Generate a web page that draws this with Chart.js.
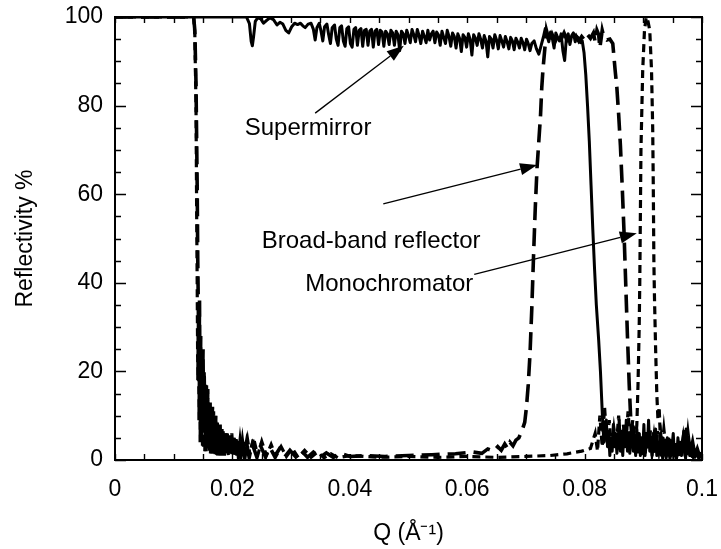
<!DOCTYPE html>
<html>
<head>
<meta charset="utf-8">
<script src="https://cdn.jsdelivr.net/npm/chart.js@4/dist/chart.umd.min.js"></script>
<style>
  html, body { margin: 0; padding: 0; background: #fff; }
  #wrap { width: 721px; height: 549px; }
</style>
</head>
<body>
<div id="wrap"><canvas id="c" width="721" height="549"></canvas></div>
<script>
// ---- Axis settings ----
const xMin = 0, xMax = 0.1, xLabelStep = 0.02, xMinorStep = 0.005;
const yMin = 0, yMax = 100, yLabelStep = 20, yMinorStep = 5;
const xTitle = 'Q (Å⁻¹)';
const yTitle = 'Reflectivity %';

// ---- Series: [Q, reflectivity %] ----
const supermirrorPoints = [
  [0,100],[0.0224,100],[0.0229,98.5],[0.0232,94.5],[0.0234,93.5],[0.0236,95.5],[0.0239,99],[0.0243,99.8],
  [0.0248,99.6],[0.0253,98.6],[0.0258,99.2],[0.0264,99.8],[0.027,99.4],[0.0276,98.2],[0.0281,98.8],[0.0286,98.4],
  [0.0291,97],[0.0296,96.4],[0.0301,97.8],[0.0306,98.6],[0.0311,98.3],[0.0316,98.6],[0.032,98],[0.0324,97.6],
  [0.0329,98.4],[0.0334,98.6],[0.0338,97.2],[0.0341,94.8],[0.0344,97.6],[0.0348,98.6],[0.0351,96.8],[0.0354,94.6],
  [0.0357,97.8],[0.0361,98.4],[0.0364,96],[0.0367,94],[0.037,97.6],[0.0374,98.2],[0.0377,95],[0.038,93.6],
  [0.0383,97.6],[0.0386,98],[0.0389,94.6],[0.0392,93.4],[0.0395,97.4],[0.0398,97.8],[0.0401,94],[0.0404,93.2],
  [0.0407,97.2],[0.041,97.6],[0.0413,93.6],[0.0416,97],[0.0419,97.4],[0.0422,93.4],[0.0425,97],[0.0428,97.2],
  [0.0431,93.6],[0.0434,96.8],[0.0437,97.2],[0.044,93.2],[0.0443,96.8],[0.0446,97.2],[0.0449,93.8],[0.0452,97],
  [0.0455,96.6],[0.0458,93.4],[0.0461,96.8],[0.0464,96.2],[0.0467,93.8],[0.047,97],[0.0473,96.4],[0.0476,93.6],
  [0.0479,96.8],[0.0482,96],[0.0485,92.4],[0.0488,96.8],[0.0491,96.2],[0.0494,94],[0.0497,97],[0.05,95.8],
  [0.0503,94.2],[0.0506,97.2],[0.0509,96],[0.0512,94.4],[0.0515,97.2],[0.0518,95.8],[0.0521,94],[0.0524,96.8],
  [0.0527,95.6],[0.053,94.2],[0.0533,97],[0.0536,94.8],[0.0539,96.2],[0.0542,96.8],[0.0545,94.2],[0.0548,96.6],
  [0.0551,96],[0.0554,93.6],[0.0557,96.8],[0.056,95.4],[0.0563,94],[0.0566,97],[0.0569,95.6],[0.0572,93.4],
  [0.0575,96.4],[0.0578,95.6],[0.0581,93],[0.0584,96.2],[0.0587,95.2],[0.059,92.2],[0.0593,96],[0.0596,95.4],
  [0.0599,93.2],[0.0602,96.2],[0.0605,95],[0.0608,91.4],[0.0611,96],[0.0614,95.2],[0.0617,93.6],[0.062,96.2],
  [0.0623,95],[0.0626,93],[0.0629,95.8],[0.0632,94.6],[0.0635,91],[0.0638,95.6],[0.0641,95],[0.0644,93],
  [0.0647,96],[0.065,94.8],[0.0653,92.8],[0.0656,95.8],[0.0659,94.6],[0.0662,93.2],[0.0665,95.6],[0.0668,94.4],
  [0.0671,92.8],[0.0674,95.4],[0.0677,94.6],[0.068,92.6],[0.0683,95.2],[0.0686,94.4],[0.0689,93],[0.0692,95.2],
  [0.0695,94.2],[0.0698,92.6],[0.0701,95],[0.0704,94],[0.0707,92.4],[0.071,94],[0.0714,94.6],[0.0718,92.8],
  [0.0722,91.6],[0.0726,93.6],[0.073,95.6],[0.0733,97.4],[0.0736,95.8],[0.0739,94.4],[0.0742,96.6],[0.0745,95.2],
  [0.0748,93],[0.0751,96.4],[0.0754,95.4],[0.0757,94.6],[0.076,96.2],[0.0763,92.4],[0.0766,90.2],[0.0769,95.4],
  [0.0772,96.2],[0.0775,93.8],[0.0778,95.8],[0.0781,96.4],[0.0784,94.4],[0.0787,95.6],[0.079,95.2],[0.0793,94.2],
  [0.0796,94.6],[0.0799,92],[0.0802,87],[0.0805,80],[0.0808,72],[0.0811,62],[0.0814,52],[0.0817,43],
  [0.082,35],[0.0824,27],[0.0827,20],[0.0829,14],[0.0831,8],[0.0833,4],[0.0835,8.5],[0.0837,9],
  [0.0839,3],[0.0841,6],[0.0843,1],[0.0845,5],[0.0847,2],[0.0849,8],[0.0851,3],[0.0853,6],
  [0.0855,1.5],[0.0857,4],[0.0859,9],[0.0861,2],[0.0863,5],[0.0865,1],[0.0867,7],[0.0869,3],
  [0.0871,9],[0.0873,2],[0.0875,6],[0.0877,1.5],[0.0879,5],[0.0881,8],[0.0883,2],[0.0885,4],
  [0.0887,1],[0.0889,7],[0.0891,3],[0.0893,6],[0.0895,1],[0.0897,5],[0.0899,2],[0.0901,8],
  [0.0903,1],[0.0905,6],[0.0907,3],[0.0909,9],[0.0911,2],[0.0913,5],[0.0915,1],[0.0917,6],
  [0.0919,2.5],[0.0921,7],[0.0923,1],[0.0925,4],[0.0927,2],[0.0929,6],[0.0931,1],[0.0933,5],
  [0.0935,2],[0.0937,3.5],[0.0939,0.8],[0.0941,5],[0.0943,1.5],[0.0945,4.5],[0.0947,1],[0.0949,3],
  [0.0951,6],[0.0953,1],[0.0955,3.5],[0.0957,0.8],[0.0959,5],[0.0961,1.2],[0.0963,4],[0.0965,1],
  [0.0967,3.5],[0.0969,6.5],[0.0971,1],[0.0973,7],[0.0975,2],[0.0977,5],[0.0979,1],[0.0981,3],
  [0.0983,0.8],[0.0985,2.5],[0.0988,0.6],[0.0991,2],[0.0994,0.5],[0.0997,1.5],[0.1,0.5]
];

const broadbandPoints = [
  [0,100],[0.0134,100],[0.0136,97],[0.0138,85],[0.014,62],[0.0141,45],[0.0142,34],[0.0143,18],
  [0.0144,36],[0.0145,10],[0.0146,28],[0.0147,5],[0.0148,22],[0.0149,14],[0.015,25],[0.0151,3],
  [0.0152,19],[0.0153,8],[0.0154,17],[0.0155,2],[0.0156,15],[0.0157,6],[0.0158,16],[0.0159,2],
  [0.016,12],[0.0161,7],[0.0162,13],[0.0163,1.5],[0.0164,11],[0.0165,4],[0.0166,12],[0.0167,1.5],
  [0.0168,9],[0.0169,5],[0.017,10],[0.0171,1.2],[0.0172,8.5],[0.0173,3],[0.0174,9],[0.0175,1],
  [0.0177,7.5],[0.0178,3],[0.0179,8],[0.018,1],[0.0182,7],[0.0183,2.5],[0.0184,6.5],[0.0186,1],
  [0.0188,6],[0.0189,2],[0.019,6.5],[0.0192,1],[0.0194,5.5],[0.0196,1.5],[0.0198,5.5],[0.02,1],
  [0.0202,5],[0.0204,1.2],[0.0206,4.8],[0.0208,1],[0.0211,4.5],[0.0214,1],[0.0217,4.2],[0.022,1],
  [0.0224,4],[0.0228,1],[0.0234,3.6],[0.0241,0.9],[0.0248,3.2],[0.0256,0.8],[0.0264,2.8],[0.0272,0.8],
  [0.028,2.5],[0.0289,0.7],[0.0298,2.2],[0.0308,0.7],[0.0318,2],[0.0328,0.6],[0.0338,1.8],[0.0349,0.6],
  [0.036,1.6],[0.0372,0.6],[0.0384,1.5],[0.04,0.8],[0.043,1],[0.046,0.8],[0.05,1],[0.054,1.2],
  [0.058,1.4],[0.061,1.8],[0.0625,1.5],[0.0635,2.5],[0.0645,2],[0.0652,3],[0.0658,2.2],[0.0664,3.6],
  [0.0669,2.6],[0.0673,4],[0.0678,3.2],[0.0683,4.5],[0.0688,5],[0.0693,6.5],[0.0698,8.5],[0.0701,12],
  [0.0704,17],[0.0707,24],[0.071,34],[0.0713,46],[0.0716,57],[0.0719,66],[0.0722,72],[0.0725,78],
  [0.0727,84],[0.0729,88],[0.0731,91],[0.0733,94],[0.0735,97],[0.0738,95.5],[0.0741,94],[0.0745,96],
  [0.075,94.5],[0.0755,96],[0.076,95],[0.0765,96.4],[0.077,94.8],[0.0775,96],[0.078,95],[0.0785,95.8],
  [0.079,94.6],[0.0795,95.6],[0.08,94.8],[0.0805,96],[0.081,95.2],[0.0815,96.4],[0.0818,94.4],[0.0821,97],
  [0.0824,96],[0.0826,93],[0.0828,95],[0.083,97],[0.0833,95.4],[0.0838,94.8],[0.0843,95],[0.0848,94],
  [0.0852,88],[0.0855,84],[0.0858,78],[0.0861,71],[0.0864,62],[0.0867,52],[0.087,40],[0.0873,28],
  [0.0876,17],[0.0879,8],[0.0882,3],[0.0884,7],[0.0886,2],[0.0888,5],[0.089,1.5],[0.0892,6],
  [0.0894,2],[0.0896,4.5],[0.0898,1],[0.09,5.5],[0.0903,1.5],[0.0906,6],[0.0909,2],[0.0912,7],
  [0.0915,2],[0.0918,5],[0.0921,1.5],[0.0924,6.5],[0.0927,2.5],[0.093,5],[0.0933,1],[0.0936,4],
  [0.0939,1],[0.0942,3.5],[0.0945,1],[0.0948,5],[0.0951,2],[0.0954,4],[0.0957,1],[0.096,3],
  [0.0964,1.5],[0.0968,5],[0.0972,1],[0.0976,6],[0.098,1.5],[0.0984,4],[0.0988,1],[0.0992,2.5],
  [0.0996,0.8],[0.1,1.5]
];

const monochromatorPoints = [
  [0,100],[0.0134,100],[0.0136,96],[0.0138,80],[0.0139,58],[0.014,40],[0.0141,18],[0.0142,32],
  [0.0143,9],[0.0144,27],[0.0145,4],[0.0146,21],[0.0147,12],[0.0148,24],[0.0149,3],[0.015,17],
  [0.0151,9],[0.0152,20],[0.0153,2],[0.0154,14],[0.0155,7],[0.0156,17],[0.0157,3],[0.0158,14],
  [0.0159,5],[0.016,11],[0.0161,2],[0.0162,12],[0.0163,6],[0.0164,10],[0.0165,1.5],[0.0166,9.5],
  [0.0167,4],[0.0168,11],[0.0169,1.5],[0.017,8],[0.0171,3.5],[0.0172,10],[0.0173,1.2],[0.0175,8],
  [0.0176,2.5],[0.0177,7.5],[0.0179,1],[0.0181,7],[0.0182,2],[0.0183,6.5],[0.0185,1],[0.0187,6],
  [0.0189,1.5],[0.0191,6.5],[0.0193,1],[0.0195,5.5],[0.0197,1.5],[0.0199,6],[0.0201,1],[0.0203,5],
  [0.0205,1.2],[0.0207,5],[0.021,0.8],[0.0213,4.5],[0.0216,1],[0.0219,4.5],[0.0222,1],[0.0226,4.5],
  [0.023,1.2],[0.0236,5],[0.0243,1],[0.025,4.2],[0.0258,1],[0.0266,3.5],[0.0274,0.8],[0.0283,3],
  [0.0292,0.8],[0.0302,2.6],[0.0312,0.6],[0.0323,2.2],[0.0334,0.6],[0.0345,1.8],[0.0356,0.5],[0.0368,1.4],
  [0.038,0.5],[0.04,1],[0.045,0.6],[0.05,0.8],[0.055,0.6],[0.06,0.8],[0.065,0.6],[0.07,0.8],
  [0.074,1],[0.077,1.4],[0.0795,2],[0.081,2.6],[0.0818,6],[0.0822,2],[0.0826,10],[0.083,3],
  [0.0834,12],[0.0838,4],[0.0842,9],[0.0846,2],[0.085,7],[0.0854,3],[0.0858,10],[0.0862,2],
  [0.0866,8],[0.087,3],[0.0874,11],[0.0878,4],[0.0882,9],[0.0886,3],[0.0889,8],[0.0891,17],
  [0.0893,30],[0.0894,40],[0.0896,70],[0.0899,88],[0.0902,97],[0.0905,100],[0.0908,99],[0.0911,97],
  [0.0914,88],[0.0916,75],[0.0917,62],[0.0918,45],[0.0919,37],[0.0921,25],[0.0923,15],[0.0925,9],
  [0.0927,12],[0.0929,5],[0.0932,3],[0.0935,7],[0.0939,2],[0.0943,5],[0.0947,1.5],[0.0951,4],
  [0.0955,1],[0.096,3.5],[0.0965,1.5],[0.097,4],[0.0975,1],[0.098,3],[0.0985,0.8],[0.099,2.5],
  [0.0995,0.5],[0.1,1]
];

// ---- Annotations (data coordinates) ----
const annotationLabels = ['Supermirror', 'Broad-band reflector', 'Monochromator'];
const annotationTextAt = [[0.0221, 74.9], [0.025, 49.4], [0.0324, 39.7]];
const annotationArrowFrom = [[0.0341, 78.3], [0.0457, 57.8], [0.0612, 41.9]];
const annotationArrowTo = [[0.0492, 93.5], [0.0719, 66.6], [0.0889, 51.2]];

const FONT = "'Liberation Sans', Arial, Helvetica, sans-serif";

const framePlugin = {
  id: 'frameAndTicks',
  afterDraw(chart) {
    const { ctx, chartArea: a, scales } = chart;
    const xs = scales.x, ys = scales.y;
    ctx.save();
    ctx.strokeStyle = '#000';
    ctx.lineWidth = 1.4;
    ctx.beginPath();
    for (let i = 0; i * xMinorStep <= xMax - xMin + 1e-9; i++) {
      const px = Math.round(xs.getPixelForValue(xMin + i * xMinorStep)) + 0.5;
      ctx.moveTo(px, a.bottom); ctx.lineTo(px, a.bottom - 6);
      ctx.moveTo(px, a.top); ctx.lineTo(px, a.top + 6);
    }
    for (let i = 0; i * yMinorStep <= yMax - yMin + 1e-9; i++) {
      const v = yMin + i * yMinorStep;
      const py = Math.round(ys.getPixelForValue(v)) + 0.5;
      const len = (Math.abs(v % yLabelStep) < 1e-9) ? 11 : 6;
      ctx.moveTo(a.left, py); ctx.lineTo(a.left + len, py);
      ctx.moveTo(a.right, py); ctx.lineTo(a.right - len, py);
    }
    ctx.stroke();
    ctx.lineWidth = 2;
    ctx.strokeRect(a.left, a.top, a.right - a.left, a.bottom - a.top);

    // annotations
    ctx.fillStyle = '#000';
    ctx.font = '24px ' + FONT;
    ctx.textBaseline = 'middle';
    ctx.textAlign = 'left';
    annotationLabels.forEach((t, i) => {
      const tx = xs.getPixelForValue(annotationTextAt[i][0]);
      const ty = ys.getPixelForValue(annotationTextAt[i][1]);
      ctx.fillText(t, tx, ty);
      const x1 = xs.getPixelForValue(annotationArrowFrom[i][0]);
      const y1 = ys.getPixelForValue(annotationArrowFrom[i][1]);
      const x2 = xs.getPixelForValue(annotationArrowTo[i][0]);
      const y2 = ys.getPixelForValue(annotationArrowTo[i][1]);
      const ang = Math.atan2(y2 - y1, x2 - x1);
      const hl = 17, hw = 6;
      ctx.lineWidth = 1.3;
      ctx.beginPath();
      ctx.moveTo(x1, y1);
      ctx.lineTo(x2 - hl * Math.cos(ang), y2 - hl * Math.sin(ang));
      ctx.stroke();
      ctx.beginPath();
      ctx.moveTo(x2, y2);
      ctx.lineTo(x2 - hl * Math.cos(ang) + hw * Math.sin(ang), y2 - hl * Math.sin(ang) - hw * Math.cos(ang));
      ctx.lineTo(x2 - hl * Math.cos(ang) - hw * Math.sin(ang), y2 - hl * Math.sin(ang) + hw * Math.cos(ang));
      ctx.closePath();
      ctx.fill();
    });
    ctx.restore();
  }
};

const toXY = pts => pts.map(p => ({ x: p[0], y: p[1] }));

new Chart(document.getElementById('c'), {
  type: 'scatter',
  data: {
    datasets: [
      { label: 'Supermirror', data: toXY(supermirrorPoints), showLine: true, borderColor: '#000',
        borderWidth: 3, pointRadius: 0, tension: 0, borderJoinStyle: 'round' },
      { label: 'Broad-band reflector', data: toXY(broadbandPoints), showLine: true, borderColor: '#000',
        borderWidth: 3.6, pointRadius: 0, tension: 0, borderDash: [18, 8] },
      { label: 'Monochromator', data: toXY(monochromatorPoints), showLine: true, borderColor: '#000',
        borderWidth: 3.2, pointRadius: 0, tension: 0, borderDash: [8, 5] }
    ]
  },
  options: {
    responsive: false,
    animation: false,
    layout: { padding: { left: 0, right: 19, top: 17, bottom: 0 } },
    plugins: { legend: { display: false }, tooltip: { enabled: false } },
    scales: {
      x: {
        type: 'linear', min: xMin, max: xMax,
        grid: { display: false, drawTicks: false },
        border: { display: false },
        ticks: {
          stepSize: xLabelStep, autoSkip: false, maxRotation: 0, padding: 16,
          color: '#000', font: { family: FONT, size: 23 },
          callback: v => String(Number(v.toFixed(3)))
        },
        title: { display: true, text: xTitle, color: '#000', font: { family: FONT, size: 23 },
                 padding: { top: 0, bottom: 2 } },
        afterFit: s => { s.height = 89; s.paddingLeft = 0; s.paddingRight = 0; }
      },
      y: {
        type: 'linear', min: yMin, max: yMax,
        grid: { display: false, drawTicks: false },
        border: { display: false },
        ticks: {
          stepSize: yLabelStep, autoSkip: false, padding: 12,
          color: '#000', font: { family: FONT, size: 23 }
        },
        title: { display: true, text: yTitle, color: '#000', font: { family: FONT, size: 23 },
                 padding: { top: 12, bottom: 0 } },
        afterFit: s => { s.width = 115; s.paddingTop = 0; s.paddingBottom = 0; }
      }
    }
  },
  plugins: [framePlugin]
});
</script>
</body>
</html>
